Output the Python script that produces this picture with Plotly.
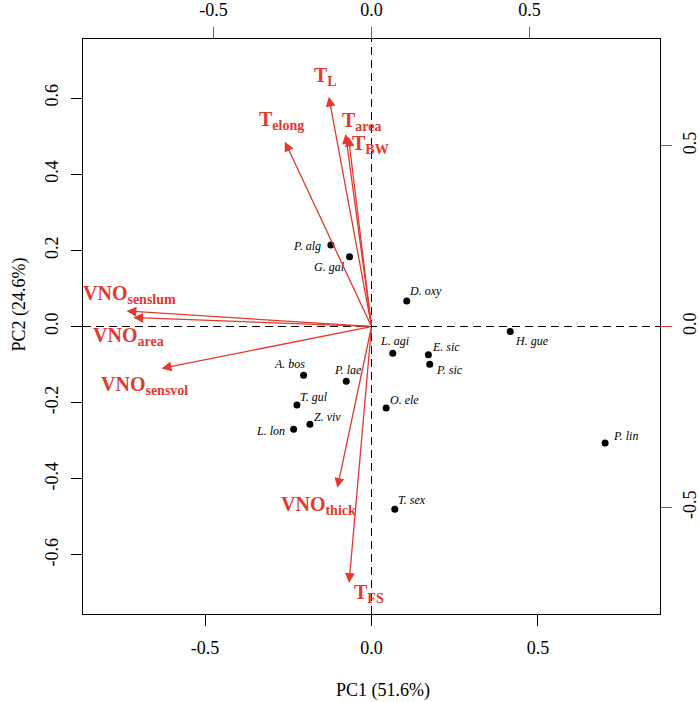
import plotly.graph_objects as go

# ---- data ----
species = ["P. alg", "G. gal", "D. oxy", "H. gue", "L. agi", "E. sic", "P. sic", "O. ele",
           "P. lin", "T. sex", "A. bos", "P. lae", "T. gul", "Z. viv", "L. lon"]
pc1 = [-0.122, -0.066, 0.106, 0.417, 0.064, 0.171, 0.175, 0.044,
       0.702, 0.070, -0.204, -0.076, -0.224, -0.185, -0.234]
pc2 = [0.214, 0.183, 0.067, -0.013, -0.070, -0.074, -0.099, -0.214,
       -0.306, -0.480, -0.128, -0.144, -0.206, -0.257, -0.270]

variables = ["T<sub>L</sub>", "T<sub>elong</sub>", "T<sub>area</sub>", "T<sub>BW</sub>",
             "VNO<sub>senslum</sub>", "VNO<sub>area</sub>", "VNO<sub>sensvol</sub>",
             "VNO<sub>thick</sub>", "T<sub>FS</sub>"]
load1 = [-0.135, -0.274, -0.082, -0.073, -0.775, -0.754, -0.664, -0.108, -0.071]
load2 = [0.635, 0.511, 0.532, 0.525, 0.043, 0.025, -0.116, -0.446, -0.709]

x_ticks = [-0.5, 0.0, 0.5]
y_ticks = [-0.6, -0.4, -0.2, 0.0, 0.2, 0.4, 0.6]
x2_ticks = [-0.5, 0.0, 0.5]
y2_ticks = [-0.5, 0.0, 0.5]

# ---- style ----
RED = "#E5382E"
FONT = "Liberation Serif"
# label offsets in pixels (dx right, dy down)
sp_off = [(-24, 1), (-20, 10), (19, -10), (22, 10), (2, -12), (18, -8), (20, 6), (18, -8),
          (20, -7), (17, -9), (-14, -11), (2, -11), (17, -8), (18, -7), (-23, 2)]
var_off = [(-3, -20), (-3, -21), (16, -13), (22, 8), (3, -16), (-5, 19), (-17, 17), (-19, 18), (20, 11)]

fig = go.Figure()

fig.add_trace(go.Scatter(x=pc1, y=pc2, mode="markers",
                         marker=dict(color="black", size=7),
                         hoverinfo="skip", showlegend=False))
fig.add_trace(go.Scatter(x=load1, y=load2, mode="markers", xaxis="x2", yaxis="y2",
                         marker=dict(color="rgba(0,0,0,0)", size=1),
                         hoverinfo="skip", showlegend=False))

ann = []
for s, x, y, (dx, dy) in zip(species, pc1, pc2, sp_off):
    ann.append(dict(x=x, y=y, xref="x", yref="y", text="<i>" + s + "</i>", showarrow=False,
                    xshift=dx, yshift=-dy, font=dict(family=FONT, size=12, color="black")))
for v, x, y, (dx, dy) in zip(variables, load1, load2, var_off):
    ann.append(dict(x=x, y=y, xref="x2", yref="y2", ax=0, ay=0, axref="x2", ayref="y2",
                    text="", showarrow=True, arrowhead=2, arrowsize=1.5, arrowwidth=1.3,
                    arrowcolor=RED, standoff=0, startstandoff=0))
    ann.append(dict(x=x, y=y, xref="x2", yref="y2", text="<b>" + v + "</b>", showarrow=False,
                    xshift=dx, yshift=-dy, font=dict(family=FONT, size=20, color=RED)))

ann.append(dict(x=0.5, y=0, xref="paper", yref="paper", text="PC1 (51.6%)", showarrow=False,
                xshift=11, yshift=-76, yanchor="middle",
                font=dict(family=FONT, size=18, color="black")))
ann.append(dict(x=0, y=0.5, xref="paper", yref="paper", text="PC2 (24.6%)", showarrow=False,
                xshift=-64, yshift=22, xanchor="center", textangle=-90,
                font=dict(family=FONT, size=18, color="black")))

fig.add_hline(y=0, line=dict(color="black", width=1, dash="8px,5px"))
fig.add_vline(x=0, line=dict(color="black", width=1, dash="8px,5px"))

tickfont = dict(family=FONT, size=18, color="black")
fig.update_layout(
    width=700, height=702,
    margin=dict(l=83, r=40, t=39, b=88, autoexpand=False),
    plot_bgcolor="white", paper_bgcolor="white",
    annotations=ann,
    xaxis=dict(range=[-0.867, 0.867], tickvals=x_ticks, ticktext=["%.1f" % t for t in x_ticks],
               ticks="outside", ticklen=11, tickwidth=1, tickcolor="black", automargin=False,
               showline=True, linecolor="black", linewidth=1.3, mirror=True,
               showgrid=False, zeroline=False, tickfont=tickfont, ticklabelstandoff=6),
    yaxis=dict(range=[-0.755, 0.755], tickvals=y_ticks, ticktext=["%.1f" % t for t in y_ticks],
               ticks="outside", ticklen=11, tickwidth=1, tickcolor="black", tickangle=-90,
               automargin=False,
               showline=True, linecolor="black", linewidth=1.3, mirror=True,
               showgrid=False, zeroline=False, tickfont=tickfont, ticklabelstandoff=6),
    xaxis2=dict(range=[-0.913, 0.913], overlaying="x", side="top", anchor="y",
                tickvals=x2_ticks, ticktext=["%.1f" % t for t in x2_ticks], automargin=False,
                ticks="outside", ticklen=11, tickwidth=1, tickcolor=RED,
                showline=False, showgrid=False, zeroline=False, tickfont=tickfont,
                ticklabelstandoff=4),
    yaxis2=dict(range=[-0.795, 0.795], overlaying="y", side="right", anchor="x",
                tickvals=y2_ticks, ticktext=["%.1f" % t for t in y2_ticks], automargin=False,
                ticks="outside", ticklen=11, tickwidth=1, tickcolor=RED, tickangle=-90,
                showline=False, showgrid=False, zeroline=False, tickfont=tickfont,
                ticklabelstandoff=2),
)

fig.write_html("out.html", config={"displayModeBar": False},
               post_script="document.body.style.margin='0';")
